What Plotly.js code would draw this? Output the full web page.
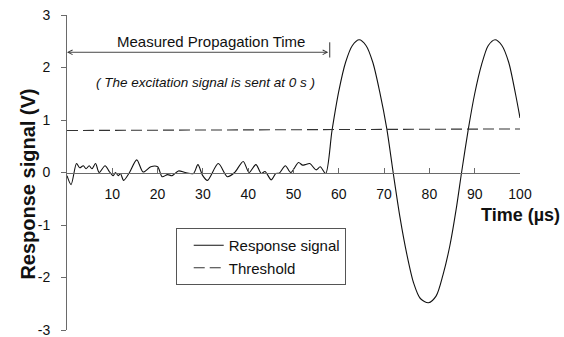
<!DOCTYPE html>
<html>
<head>
<meta charset="utf-8">
<script src="https://cdn.plot.ly/plotly-3.0.1.min.js"></script>
<style>html,body{margin:0;padding:0;background:#fff;}#chart{width:564px;height:337px;}</style>
</head>
<body>
<div id="chart"></div>
<script>
// Response signal: time (µs) and voltage (V)
const timeUs = [0, 0.9, 2.1, 2.8, 3.6, 4.2, 4.9, 5.5, 6.3, 7.1, 8.4, 9.4, 10.2, 10.7, 11.3, 11.8, 12.5, 13.8,
  15.4, 16.8, 18.5, 20, 21, 22.2, 23.2, 24.6, 26.1, 27.9, 28.9, 29.9, 31, 33.4, 35.4, 37, 38.9, 40.2, 41.7,
  42.9, 43.7, 45.1, 46.1, 46.9, 48.2, 49.4, 51.1, 52, 52.6, 53.6, 55, 55.9, 57.1,
  58.5, 60, 61.5, 63, 64.5, 66, 67.5, 69, 70.6, 72, 73.5, 75, 76.5, 78, 79.8, 81.5, 83, 84.5, 86, 87.1,
  88.6, 90, 91.5, 93, 94.5, 96, 97.5, 99, 100];
const responseV = [-0.06, -0.23, 0.17, 0.09, 0.13, 0.07, 0.13, 0.07, 0.17, 0.0, 0.13, 0.01, -0.06, 0.0, -0.06, -0.02, -0.15, 0.0,
  0.24, 0.01, 0.11, 0.11, -0.08, -0.04, -0.06, 0.03, 0.0, -0.02, 0.15, -0.05, -0.15, 0.17, -0.08, 0.0, 0.21, 0.0, 0.15,
  -0.02, 0.02, -0.14, -0.02, -0.01, 0.13, 0.0, 0.19, 0.14, 0.15, 0.17, 0.05, 0.11, -0.02,
  0.8, 1.55, 2.1, 2.42, 2.53, 2.42, 2.1, 1.55, 0.83, 0.0, -0.85, -1.55, -2.1, -2.4, -2.48, -2.35, -1.95, -1.4, -0.65, 0.0,
  0.83, 1.5, 2.05, 2.42, 2.53, 2.42, 2.1, 1.5, 1.04];

// Threshold line
const thresholdT = [0, 100];
const thresholdV = [0.8, 0.83];

// Measured propagation time (µs)
const propStart = 0;
const propEnd = 58;

// Tick labels
const xTickVals = [10, 20, 30, 40, 50, 60, 70, 80, 90, 100];
const xTickText = ['10', '20', '30', '40', '50', '60', '70', '80', '90', '100'];
const yTickVals = [-3, -2, -1, 0, 1, 2, 3];
const yTickText = ['-3', '-2', '-1', '0', '1', '2', '3'];

const FONT = '"Liberation Sans", Arial, sans-serif';
const AXIS = '#6a6a6a';

const traces = [
  {x: timeUs, y: responseV, type: 'scatter', mode: 'lines', name: 'Response signal',
   line: {color: '#111', width: 1.1, shape: 'spline', smoothing: 0.8}},
  {x: thresholdT, y: thresholdV, type: 'scatter', mode: 'lines', name: 'Threshold',
   line: {color: '#333', width: 1.1, dash: '11px,5px'}}
];

const layout = {
  width: 564, height: 337,
  margin: {l: 67, r: 44, t: 15, b: 7, pad: 0},
  paper_bgcolor: '#fff', plot_bgcolor: '#fff',
  font: {family: FONT, color: '#111', size: 14},
  showlegend: true,
  legend: {x: 0.24, y: 0.324, xanchor: 'left', yanchor: 'top', bgcolor: '#fff',
    bordercolor: '#555', borderwidth: 1, font: {family: FONT, size: 15, color: '#111'},
    indentation: 12, tracegroupgap: 0},
  xaxis: {range: [0, 100], anchor: 'free', position: 0.5, showline: true, linecolor: AXIS, linewidth: 1,
    ticks: 'inside', ticklen: 5, tickcolor: AXIS, tickvals: xTickVals, ticktext: xTickText,
    tickfont: {family: FONT, size: 14, color: '#111'}, ticklabelstandoff: 9,
    showgrid: false, zeroline: false, fixedrange: true},
  yaxis: {range: [-3, 3], showline: true, linecolor: AXIS, linewidth: 1,
    ticks: 'outside', ticklen: 5, tickcolor: AXIS, tickvals: yTickVals, ticktext: yTickText,
    tickfont: {family: FONT, size: 14, color: '#111'}, ticklabelstandoff: 8, ticklabeloverflow: 'allow',
    showgrid: false, zeroline: false, fixedrange: true},
  shapes: [
    {type: 'line', xref: 'x', yref: 'y', x0: propEnd, x1: propEnd, y0: 2.19, y1: 2.48,
     line: {color: '#333', width: 1}}
  ],
  annotations: [
    {xref: 'x', yref: 'y', x: propStart, y: 2.29, ax: propEnd, ay: 2.29, axref: 'x', ayref: 'y',
     text: '', showarrow: true, arrowhead: 5, arrowside: 'end+start', arrowsize: 1, arrowwidth: 0.9,
     arrowcolor: '#333', standoff: 0, startstandoff: 0},
    {xref: 'x', yref: 'y', x: 31.8, y: 2.5, text: 'Measured Propagation Time', showarrow: false,
     font: {family: FONT, size: 15, color: '#111'}},
    {xref: 'x', yref: 'y', x: 30.5, y: 1.71, text: '<i>( The excitation signal is sent at 0 s )</i>', showarrow: false,
     font: {family: FONT, size: 13.5, color: '#111'}},
    {xref: 'paper', yref: 'y', x: 1.002, y: -0.8, xanchor: 'center', yanchor: 'middle',
     text: '<b>Time (µs)</b>', showarrow: false, font: {family: FONT, size: 18, color: '#111'}},
    {xref: 'paper', yref: 'y', x: -0.086, y: -0.23, xanchor: 'center', yanchor: 'middle', textangle: -90,
     text: '<b>Response signal (V)</b>', showarrow: false, font: {family: FONT, size: 20, color: '#111'}}
  ]
};

Plotly.newPlot('chart', traces, layout, {displayModeBar: false, staticPlot: true});
</script>
</body>
</html>
